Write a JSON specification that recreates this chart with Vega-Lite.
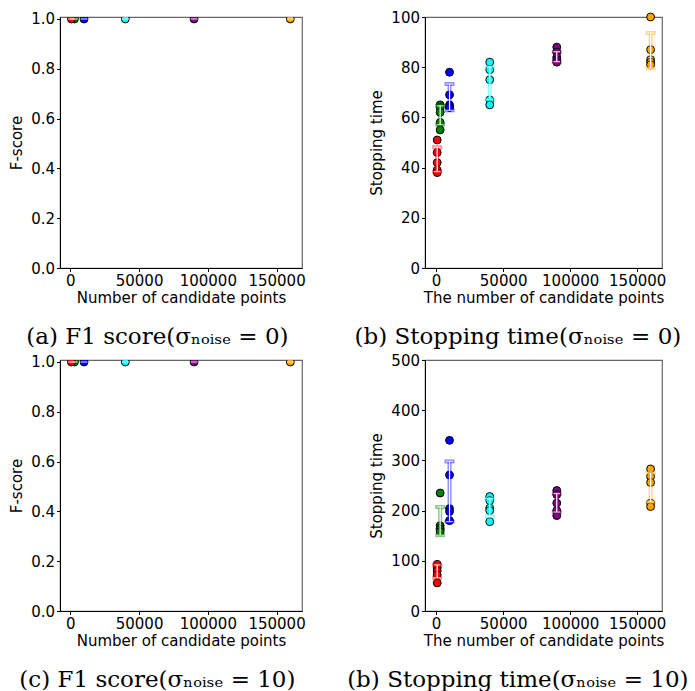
{
  "$schema": "https://vega.github.io/schema/vega-lite/v6.json",
  "background": "white",
  "padding": {"left": 9, "top": 9, "right": 5, "bottom": 5},
  "config": {
    "font": "DejaVu Sans",
    "axis": {"labelFont": "DejaVu Sans", "labelFontSize": 15, "titleFont": "DejaVu Sans", "titleFontSize": 15, "titleFontWeight": "normal", "labelColor": "black", "titleColor": "black", "domainColor": "black", "tickColor": "black", "tickSize": 3.5, "labelPadding": 2, "grid": false, "titlePadding": 2, "labelFlush": false, "labelOverlap": false},
    "axisY": {"titlePadding": 6},
    "view": {"stroke": "#666666", "strokeWidth": 1.2},
    "title": {"orient": "bottom", "font": "DejaVu Serif", "fontSize": 23, "fontWeight": "normal", "color": "black", "anchor": "middle", "frame": "bounds", "offset": 20}
  },
  "datasets": {
    "f1_0": [
      {"n": 3000, "f": 1.0}, {"n": 800, "f": 1.0}, {"n": 10000, "f": 1.0},
      {"n": 40000, "f": 1.0}, {"n": 90000, "f": 1.0}, {"n": 160000, "f": 1.0}
    ],
    "f1_10": [
      {"n": 3000, "f": 1.0}, {"n": 800, "f": 1.0}, {"n": 10000, "f": 1.0},
      {"n": 40000, "f": 1.0}, {"n": 90000, "f": 1.0}, {"n": 160000, "f": 1.0}
    ],
    "st0": [
      {"n": 800, "t": 51}, {"n": 800, "t": 46}, {"n": 800, "t": 42}, {"n": 800, "t": 39}, {"n": 800, "t": 38},
      {"n": 3000, "t": 65}, {"n": 3000, "t": 64}, {"n": 3000, "t": 62}, {"n": 3000, "t": 58}, {"n": 3000, "t": 55},
      {"n": 10000, "t": 78}, {"n": 10000, "t": 69}, {"n": 10000, "t": 65}, {"n": 10000, "t": 64}, {"n": 10000, "t": 64},
      {"n": 40000, "t": 82}, {"n": 40000, "t": 79}, {"n": 40000, "t": 75}, {"n": 40000, "t": 67}, {"n": 40000, "t": 65},
      {"n": 90000, "t": 88}, {"n": 90000, "t": 86}, {"n": 90000, "t": 84}, {"n": 90000, "t": 83}, {"n": 90000, "t": 82},
      {"n": 160000, "t": 100}, {"n": 160000, "t": 87}, {"n": 160000, "t": 83}, {"n": 160000, "t": 82}, {"n": 160000, "t": 81}
    ],
    "bar0": [
      {"n": 800, "lo": 38.4, "hi": 48.1},
      {"n": 3000, "lo": 57.1, "hi": 64.6},
      {"n": 10000, "lo": 62.8, "hi": 73.3},
      {"n": 40000, "lo": 67.1, "hi": 80.2},
      {"n": 90000, "lo": 82.2, "hi": 86.2},
      {"n": 160000, "lo": 79.6, "hi": 93.6}
    ],
    "st10": [
      {"n": 800, "t": 93}, {"n": 800, "t": 86}, {"n": 800, "t": 80}, {"n": 800, "t": 72}, {"n": 800, "t": 56},
      {"n": 3000, "t": 235}, {"n": 3000, "t": 170}, {"n": 3000, "t": 165}, {"n": 3000, "t": 162}, {"n": 3000, "t": 158},
      {"n": 10000, "t": 340}, {"n": 10000, "t": 271}, {"n": 10000, "t": 204}, {"n": 10000, "t": 198}, {"n": 10000, "t": 180},
      {"n": 40000, "t": 228}, {"n": 40000, "t": 220}, {"n": 40000, "t": 205}, {"n": 40000, "t": 200}, {"n": 40000, "t": 178},
      {"n": 90000, "t": 240}, {"n": 90000, "t": 232}, {"n": 90000, "t": 215}, {"n": 90000, "t": 200}, {"n": 90000, "t": 190},
      {"n": 160000, "t": 283}, {"n": 160000, "t": 268}, {"n": 160000, "t": 256}, {"n": 160000, "t": 215}, {"n": 160000, "t": 208}
    ],
    "bar10": [
      {"n": 800, "lo": 66, "hi": 92},
      {"n": 3000, "lo": 151, "hi": 207},
      {"n": 10000, "lo": 178, "hi": 298},
      {"n": 40000, "lo": 188, "hi": 224},
      {"n": 90000, "lo": 197, "hi": 234},
      {"n": 160000, "lo": 217, "hi": 275}
    ]
  },
  "bounds": "flush",
  "align": "each",
  "columns": 2,
  "spacing": {"row": 92, "column": 123},
  "concat": [
    {
      "width": 242, "height": 251,
      "title": {"text": "(a) F1 score(σₙₒᵢₛₑ = 0)"},
      "data": {"name": "f1_0"},
      "encoding": {
        "x": {"field": "n", "type": "quantitative", "scale": {"domain": [-7500, 168500], "nice": false, "zero": false}, "axis": {"values": [0, 50000, 100000, 150000], "format": "d", "title": "Number of candidate points"}},
        "y": {"field": "f", "type": "quantitative", "scale": {"domain": [0, 1.008], "nice": false}, "axis": {"values": [0, 0.2, 0.4, 0.6, 0.8, 1.0], "format": ".1f", "title": "F-score"}},
        "color": {"field": "n", "type": "nominal", "legend": null, "scale": {"domain": [800, 3000, 10000, 40000, 90000, 160000], "range": ["red", "green", "blue", "cyan", "purple", "orange"]}}
      },
      "layer": [
        {"mark": {"type": "point", "shape": "circle", "filled": true, "size": 62, "stroke": "black", "strokeWidth": 1, "opacity": 1, "clip": true}},
        {"mark": {"type": "tick", "orient": "horizontal", "size": 7, "thickness": 1.3, "color": "white", "clip": true}, "encoding": {"color": {"value": "white"}}}
      ]
    },
    {
      "width": 237, "height": 251,
      "title": {"text": "(b) Stopping time(σₙₒᵢₛₑ = 0)"},
      "encoding": {
        "x": {"field": "n", "type": "quantitative", "scale": {"domain": [-8300, 168500], "nice": false, "zero": false}, "axis": {"values": [0, 50000, 100000, 150000], "format": "d", "title": "The number of candidate points"}},
        "color": {"field": "n", "type": "nominal", "legend": null, "scale": {"domain": [800, 3000, 10000, 40000, 90000, 160000], "range": ["red", "green", "blue", "cyan", "purple", "orange"]}}
      },
      "layer": [
        {"data": {"name": "st0"}, "mark": {"type": "point", "shape": "circle", "filled": true, "size": 62, "stroke": "black", "strokeWidth": 1, "opacity": 1},
         "encoding": {"y": {"field": "t", "type": "quantitative", "scale": {"domain": [0, 100], "nice": false}, "axis": {"values": [0, 20, 40, 60, 80, 100], "title": "Stopping time"}}}},
        {"data": {"name": "bar0"}, "mark": {"type": "rule", "strokeWidth": 4},
         "encoding": {"y": {"field": "lo", "type": "quantitative"}, "y2": {"field": "hi"},
           "opacity": {"field": "n", "type": "nominal", "legend": null, "scale": {"domain": [800, 3000, 10000, 40000, 90000, 160000], "range": [0.45, 0.45, 0.45, 1, 1, 1]}}}},
        {"data": {"name": "bar0"}, "mark": {"type": "tick", "orient": "horizontal", "size": 10, "thickness": 4},
         "encoding": {"y": {"field": "lo", "type": "quantitative"},
           "opacity": {"field": "n", "type": "nominal", "legend": null, "scale": {"domain": [800, 3000, 10000, 40000, 90000, 160000], "range": [0.45, 0.45, 0.45, 1, 1, 1]}}}},
        {"data": {"name": "bar0"}, "mark": {"type": "tick", "orient": "horizontal", "size": 10, "thickness": 4},
         "encoding": {"y": {"field": "hi", "type": "quantitative"},
           "opacity": {"field": "n", "type": "nominal", "legend": null, "scale": {"domain": [800, 3000, 10000, 40000, 90000, 160000], "range": [0.45, 0.45, 0.45, 1, 1, 1]}}}},
        {"data": {"name": "bar0"}, "mark": {"type": "rule", "strokeWidth": 1.2, "color": "white"},
         "encoding": {"y": {"field": "lo", "type": "quantitative"}, "y2": {"field": "hi"}, "color": {"value": "white"}}},
        {"data": {"name": "bar0"}, "mark": {"type": "tick", "orient": "horizontal", "size": 7, "thickness": 1.3, "color": "white"},
         "encoding": {"y": {"field": "lo", "type": "quantitative"}, "color": {"value": "white"}}},
        {"data": {"name": "bar0"}, "mark": {"type": "tick", "orient": "horizontal", "size": 7, "thickness": 1.3, "color": "white"},
         "encoding": {"y": {"field": "hi", "type": "quantitative"}, "color": {"value": "white"}}}
      ]
    },
    {
      "width": 242, "height": 251,
      "title": {"text": "(c) F1 score(σₙₒᵢₛₑ = 10)"},
      "data": {"name": "f1_10"},
      "encoding": {
        "x": {"field": "n", "type": "quantitative", "scale": {"domain": [-7500, 168500], "nice": false, "zero": false}, "axis": {"values": [0, 50000, 100000, 150000], "format": "d", "title": "Number of candidate points"}},
        "y": {"field": "f", "type": "quantitative", "scale": {"domain": [0, 1.008], "nice": false}, "axis": {"values": [0, 0.2, 0.4, 0.6, 0.8, 1.0], "format": ".1f", "title": "F-score"}},
        "color": {"field": "n", "type": "nominal", "legend": null, "scale": {"domain": [800, 3000, 10000, 40000, 90000, 160000], "range": ["red", "green", "blue", "cyan", "purple", "orange"]}}
      },
      "layer": [
        {"mark": {"type": "point", "shape": "circle", "filled": true, "size": 62, "stroke": "black", "strokeWidth": 1, "opacity": 1, "clip": true}},
        {"mark": {"type": "tick", "orient": "horizontal", "size": 7, "thickness": 1.3, "color": "white", "clip": true}, "encoding": {"color": {"value": "white"}}}
      ]
    },
    {
      "width": 237, "height": 251,
      "title": {"text": "(b) Stopping time(σₙₒᵢₛₑ = 10)"},
      "encoding": {
        "x": {"field": "n", "type": "quantitative", "scale": {"domain": [-8300, 168500], "nice": false, "zero": false}, "axis": {"values": [0, 50000, 100000, 150000], "format": "d", "title": "The number of candidate points"}},
        "color": {"field": "n", "type": "nominal", "legend": null, "scale": {"domain": [800, 3000, 10000, 40000, 90000, 160000], "range": ["red", "green", "blue", "cyan", "purple", "orange"]}}
      },
      "layer": [
        {"data": {"name": "st10"}, "mark": {"type": "point", "shape": "circle", "filled": true, "size": 62, "stroke": "black", "strokeWidth": 1, "opacity": 1},
         "encoding": {"y": {"field": "t", "type": "quantitative", "scale": {"domain": [0, 500], "nice": false}, "axis": {"values": [0, 100, 200, 300, 400, 500], "title": "Stopping time"}}}},
        {"data": {"name": "bar10"}, "mark": {"type": "rule", "strokeWidth": 4},
         "encoding": {"y": {"field": "lo", "type": "quantitative"}, "y2": {"field": "hi"},
           "opacity": {"field": "n", "type": "nominal", "legend": null, "scale": {"domain": [800, 3000, 10000, 40000, 90000, 160000], "range": [0.45, 0.45, 0.45, 1, 1, 1]}}}},
        {"data": {"name": "bar10"}, "mark": {"type": "tick", "orient": "horizontal", "size": 10, "thickness": 4},
         "encoding": {"y": {"field": "lo", "type": "quantitative"},
           "opacity": {"field": "n", "type": "nominal", "legend": null, "scale": {"domain": [800, 3000, 10000, 40000, 90000, 160000], "range": [0.45, 0.45, 0.45, 1, 1, 1]}}}},
        {"data": {"name": "bar10"}, "mark": {"type": "tick", "orient": "horizontal", "size": 10, "thickness": 4},
         "encoding": {"y": {"field": "hi", "type": "quantitative"},
           "opacity": {"field": "n", "type": "nominal", "legend": null, "scale": {"domain": [800, 3000, 10000, 40000, 90000, 160000], "range": [0.45, 0.45, 0.45, 1, 1, 1]}}}},
        {"data": {"name": "bar10"}, "mark": {"type": "rule", "strokeWidth": 1.2, "color": "white"},
         "encoding": {"y": {"field": "lo", "type": "quantitative"}, "y2": {"field": "hi"}, "color": {"value": "white"}}},
        {"data": {"name": "bar10"}, "mark": {"type": "tick", "orient": "horizontal", "size": 7, "thickness": 1.3, "color": "white"},
         "encoding": {"y": {"field": "lo", "type": "quantitative"}, "color": {"value": "white"}}},
        {"data": {"name": "bar10"}, "mark": {"type": "tick", "orient": "horizontal", "size": 7, "thickness": 1.3, "color": "white"},
         "encoding": {"y": {"field": "hi", "type": "quantitative"}, "color": {"value": "white"}}}
      ]
    }
  ]
}
